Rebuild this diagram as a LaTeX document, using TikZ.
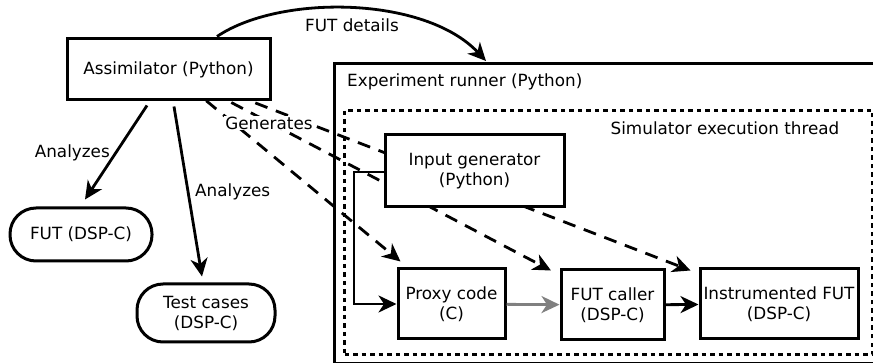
\documentclass[tikz,border=0pt]{standalone}
\usepackage{fontspec}
\setmainfont{DejaVu Sans}
\usetikzlibrary{arrows.meta,calc}
\pgfdeclarelayer{bg}
\pgfsetlayers{bg,main}
\begin{document}
\begin{tikzpicture}[x=1pt,y=-1pt,
  font=\fontsize{16.8}{20}\selectfont,
  box/.style={draw,line width=3pt,fill=white,inner sep=0pt,align=center},
  pill/.style={box,rounded corners=26pt},
  arr/.style={line width=2.8pt,-{Stealth[length=18pt,width=17pt,inset=5.5pt]}},
  gen/.style={arr,dash pattern=on 13pt off 9pt,shorten <=5pt},
  thread/.style={draw,line width=3pt,dash pattern=on 4.5pt off 4pt,inner sep=0pt},
  lbl/.style={inner sep=1pt}]
\clip (0,0) rectangle (873,363);
\useasboundingbox (0,0) rectangle (873,363);
\begin{pgfonlayer}{bg}
  \node[draw,line width=3pt,inner sep=0pt,minimum width=552pt,minimum height=300pt,anchor=north west] (runner) at (333,62) {};
  \node[thread,minimum width=528pt,minimum height=244pt,anchor=north west] (simthread) at (343,109) {};
\end{pgfonlayer}
\node[lbl,anchor=west] (runnerlbl) at (346,82) {Experiment runner (Python)};
\node[lbl] (threadlbl) at (725,128) {Simulator execution thread};

\node[box,minimum width=203pt,minimum height=61pt] (assim) at (168.5,69.5) {Assimilator (Python)};
\node[pill,minimum width=142pt,minimum height=53pt] (fut) at (81,234.5) {FUT (DSP-C)};
\node[pill,minimum width=138pt,minimum height=58pt] (tests) at (206,313) {Test cases\\(DSP-C)};
\node[box,minimum width=179pt,minimum height=72pt] (ig) at (474.5,171) {Input generator\\(Python)};
\node[box,minimum width=107pt,minimum height=70pt] (proxy) at (451.5,304) {Proxy code\\(C)};
\node[box,minimum width=103pt,minimum height=70pt] (caller) at (612.5,305) {FUT caller\\(DSP-C)};
\node[box,minimum width=158pt,minimum height=70pt] (instr) at (779,304) {Instrumented FUT\\(DSP-C)};

% FUT details
\coordinate (fds) at ([xshift=48.5pt,yshift=1pt]assim.north);
\coordinate (fde) at (486,61);
\draw[arr] (fds) .. controls (280,-6) and (425,-4) .. (fde);
\node[lbl] (fdl) at (352,25) {FUT details};

% Analyzes
\draw[arr] ([xshift=-21.5pt,yshift=-4pt]assim.south) -- ([xshift=4pt,yshift=7pt]fut.north);
\node[lbl,anchor=east] (an1) at (111,153) {Analyzes};
\draw[arr] ([xshift=5.5pt,yshift=-5pt]assim.south) -- ([xshift=-4pt,yshift=6pt]tests.north);
\node[lbl,anchor=west] (an2) at (194,192) {Analyzes};

% Generates
\begin{pgfonlayer}{bg}
  \draw[gen] (assim.center) -- ([xshift=4pt,yshift=6pt]proxy.north west);
  \draw[gen] (assim.center) -- ([xshift=-8.5pt,yshift=-2pt]caller.north west);
  \draw[gen] (assim.center) -- ([xshift=-8pt,yshift=-3pt]instr.north west);
\end{pgfonlayer}
\node[lbl,fill=white] (genl) at (269,123) {Generates};

% inner flow
\coordinate (elb) at (354,172);
\draw[arr] (ig.west |- elb) -- (elb) |- (proxy.west);
\draw[arr,gray] (proxy) -- (caller);
\draw[arr] (caller) -- (instr);
\end{tikzpicture}
\end{document}
